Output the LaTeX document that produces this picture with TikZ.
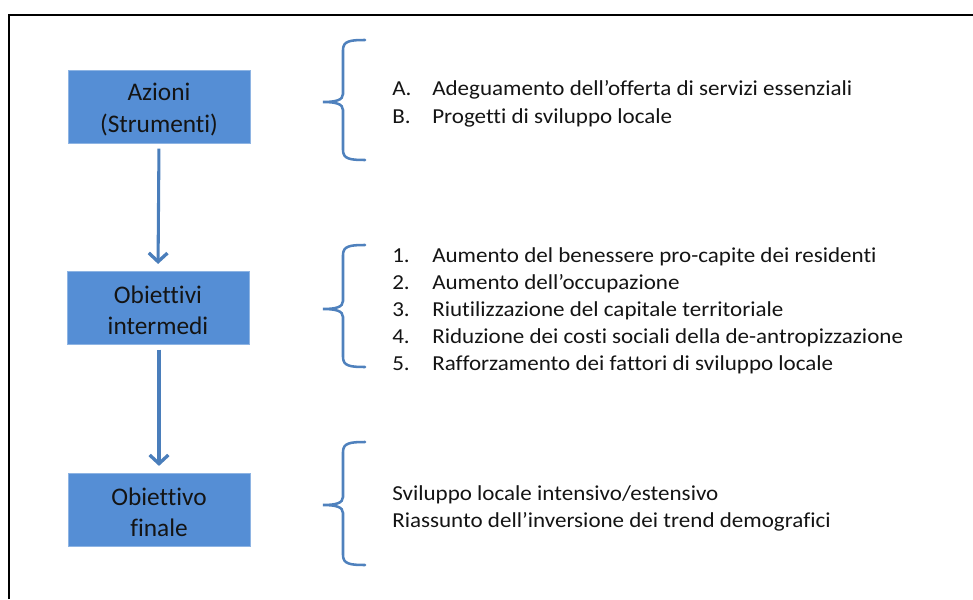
\documentclass[tikz,border=0pt]{standalone}
\usepackage{fontspec}
\setmainfont{Carlito}[Ligatures={NoCommon}]
\newfontfamily\listfont{Carlito}[Ligatures={NoCommon},FakeStretch=1.08]
\usetikzlibrary{arrows.meta}
\definecolor{boxfill}{RGB}{85,142,213}
\definecolor{boxline}{RGB}{142,180,227}
\definecolor{arrowcol}{RGB}{74,126,187}
\definecolor{bracecol}{RGB}{79,129,189}
\definecolor{txt}{RGB}{20,20,20}
\newcommand{\boxtext}[1]{\raisebox{-6.5pt}[0pt][0pt]{\parbox{130pt}{\centering #1}}}
\tikzset{
  stepbox/.style={draw=boxline, line width=0.6pt, fill=boxfill, minimum width=136.5pt, minimum height=54.75pt, inner sep=0pt, align=center, font=\fontsize{19}{23.5}\selectfont, text=txt},
  flowarrow/.style={draw=arrowcol, line width=2.3pt, -{Straight Barb[length=6.5pt,width=14pt,line width=2.5pt]}},
  bracepath/.style={draw=bracecol, line width=1.9pt, line cap=round},
  itemlabel/.style={anchor=base west, inner sep=0pt, font=\listfont\fontsize{16}{18}\selectfont, text=txt},
  itemtext/.style={anchor=base west, inner sep=0pt, font=\listfont\fontsize{16}{18}\selectfont, text=txt},
  framepath/.style={draw=black, line width=1.6pt}
}
\begin{document}
\begin{tikzpicture}[x=0.75pt,y=-0.75pt]
\useasboundingbox (0,0) rectangle (973,599);
% frame
\draw[framepath] (9,599) -- (9,15) -- (973,15);
% boxes
\node[stepbox] (azioni) at (159,106.5) {\boxtext{Azioni\\(Strumenti)}};
\node[stepbox] (interm) at (158,307.5) {\boxtext{Obiettivi\\intermedi}};
\node[stepbox] (finale) at (159,509.5) {\boxtext{Obiettivo\\finale}};
% arrows
\draw[flowarrow, shorten <=4pt, shorten >=5pt] (azioni.south) -- (interm.north);
\draw[flowarrow, shorten <=4pt, shorten >=5pt] (interm.south -| azioni.south) -- (finale.north);
% braces
\draw[bracepath] (365,40) .. controls (350,40) and (343,41) .. (343,50) -- (343,94) .. controls (343,100) and (336,102) .. (323,102) .. controls (336,102) and (343,104) .. (343,110) -- (343,150) .. controls (343,159) and (350,160) .. (365,160);
\draw[bracepath] (365,245) .. controls (350,245) and (343,246) .. (343,255) -- (343,301) .. controls (343,307) and (336,309) .. (323,309) .. controls (336,309) and (343,311) .. (343,317) -- (343,357) .. controls (343,366) and (350,367) .. (365,367);
\draw[bracepath] (365,442) .. controls (350,442) and (343,443) .. (343,452) -- (343,497) .. controls (343,503) and (336,505) .. (323,505) .. controls (336,505) and (343,507) .. (343,513) -- (343,555) .. controls (343,564) and (350,565) .. (365,565);
% list 1
\node[itemlabel] (la) at (392,96) {A.};
\node[itemtext] (ta) at (432,96) {Adeguamento dell’offerta di servizi essenziali};
\node[itemlabel] (lb) at (392,123) {B.};
\node[itemtext] (tb) at (432,123) {Progetti di sviluppo locale};
% list 2
\node[itemlabel] (l1) at (392,262) {1.};
\node[itemtext] (t1) at (432,262) {Aumento del benessere pro-capite dei residenti};
\node[itemlabel] (l2) at (392,289) {2.};
\node[itemtext] (t2) at (432,289) {Aumento dell’occupazione};
\node[itemlabel] (l3) at (392,316) {3.};
\node[itemtext] (t3) at (432,316) {Riutilizzazione del capitale territoriale};
\node[itemlabel] (l4) at (392,343) {4.};
\node[itemtext] (t4) at (432,343) {Riduzione dei costi sociali della de-antropizzazione};
\node[itemlabel] (l5) at (392,370) {5.};
\node[itemtext] (t5) at (432,370) {Rafforzamento dei fattori di sviluppo locale};
% list 3
\node[itemtext] (f1) at (392,500) {Sviluppo locale intensivo/estensivo};
\node[itemtext] (f2) at (392,527) {Riassunto dell’inversione dei trend demografici};
\end{tikzpicture}
\end{document}
